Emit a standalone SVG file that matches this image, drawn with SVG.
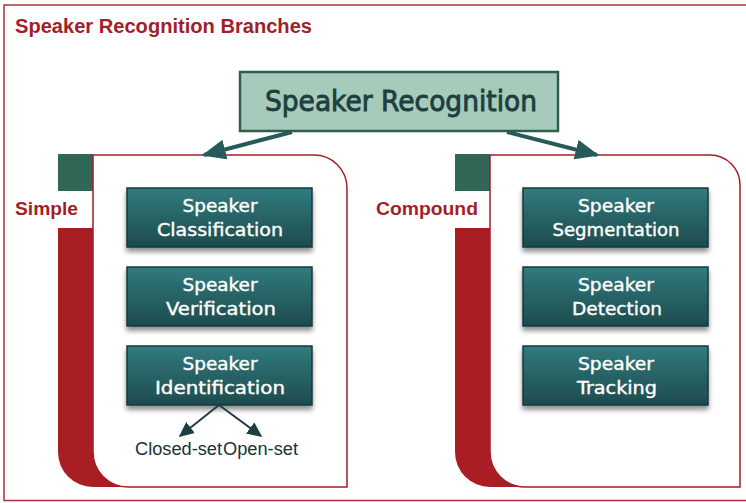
<svg xmlns="http://www.w3.org/2000/svg" width="746" height="503" viewBox="0 0 746 503">
  <defs>
    <linearGradient id="tealGrad" x1="0" y1="0" x2="0" y2="1">
      <stop offset="0" stop-color="#317b7e"/>
      <stop offset="1" stop-color="#1d4b4d"/>
    </linearGradient>
    <filter id="boxShadow" x="-10%" y="-10%" width="120%" height="140%">
      <feDropShadow dx="0" dy="4" stdDeviation="2.5" flood-color="#000" flood-opacity="0.45"/>
    </filter>
    <marker id="headBig" viewBox="0 0 10 10" refX="9" refY="5" markerWidth="6" markerHeight="5" orient="auto" markerUnits="strokeWidth" preserveAspectRatio="none">
      <path d="M0,0 L10,5 L0,10 Z" fill="#265b59"/>
    </marker>
    <marker id="headSmall" viewBox="0 0 10 10" refX="9" refY="5" markerWidth="7.5" markerHeight="7" orient="auto" markerUnits="strokeWidth" preserveAspectRatio="none">
      <path d="M0,0 L10,5 L0,10 Z" fill="#1d3f3f"/>
    </marker>
  </defs>
  <style>
    .frame { fill: none; stroke: #a8343c; stroke-width: 1.5; }
    .title { font-family: "Liberation Sans", Arial, sans-serif; font-weight: bold; font-size: 20px; fill: #a01f28; }
    .group-label { font-family: "Liberation Sans", Arial, sans-serif; font-weight: bold; font-size: 19px; fill: #a01f28; }
    .tab { fill: #2f6656; }
    .spine { fill: #a91e23; }
    .panel { fill: #ffffff; stroke: #a51e25; stroke-width: 1.5; }
    .root-box { fill: #a6cbbb; stroke: #2f5e4e; stroke-width: 2.5; }
    .root-text { font-family: "Comic Sans MS", "DejaVu Sans", sans-serif; font-size: 28px; fill: #1e3f3f; stroke: #1e3f3f; stroke-width: 0.9; text-anchor: middle; }
    .leaf-box { fill: url(#tealGrad); stroke: #17393a; stroke-width: 1.5; filter: url(#boxShadow); }
    .leaf-text { font-family: "Comic Sans MS", "DejaVu Sans", sans-serif; font-size: 18px; fill: #ffffff; stroke: #ffffff; stroke-width: 0.4; text-anchor: middle; }
    .sub-text { font-family: "Liberation Sans", Arial, sans-serif; font-size: 18px; fill: #173434; }
    .conn-big { fill: none; stroke: #265b59; stroke-width: 4; }
    .conn-small { fill: none; stroke: #1d3f3f; stroke-width: 2; }
  </style>

  <!-- outer frame and heading -->
  <rect class="frame" x="4" y="5" width="800" height="495.5"/>
  <text class="title" x="15" y="33" textLength="297" lengthAdjust="spacingAndGlyphs">Speaker Recognition Branches</text>

  <!-- root node -->
  <g id="root">
    <rect class="root-box" x="240" y="72" width="318" height="59"/>
    <text class="root-text" x="401" y="111" textLength="272" lengthAdjust="spacingAndGlyphs">Speaker Recognition</text>
  </g>

  <!-- Simple branch container -->
  <g id="simple">
    <path class="spine" d="M58,228 V452 A35,35 0 0 0 93,487 H200 V228 Z"/>
    <rect class="tab" x="58" y="154" width="35" height="37"/>
    <path class="panel" d="M93,155 H314 A33,33 0 0 1 347,188 V487 H128 A35,35 0 0 1 93,452 Z"/>
    <text class="group-label" x="15" y="215" textLength="63" lengthAdjust="spacingAndGlyphs">Simple</text>
  </g>

  <!-- Compound branch container -->
  <g id="compound">
    <path class="spine" d="M455,228 V452 A35,35 0 0 0 490,487 H600 V228 Z"/>
    <rect class="tab" x="455" y="154" width="35" height="37"/>
    <path class="panel" d="M490,155 H710 A30,30 0 0 1 740,185 V487 H525 A35,35 0 0 1 490,452 Z"/>
    <text class="group-label" x="376" y="215" textLength="102" lengthAdjust="spacingAndGlyphs">Compound</text>
  </g>

  <!-- leaf nodes, Simple branch -->
  <g id="classification">
    <rect class="leaf-box" x="127" y="188" width="185" height="59"/>
    <text class="leaf-text" x="220" y="212" textLength="75" lengthAdjust="spacingAndGlyphs">Speaker</text>
    <text class="leaf-text" x="220" y="236" textLength="126" lengthAdjust="spacingAndGlyphs">Classification</text>
  </g>
  <g id="verification">
    <rect class="leaf-box" x="127" y="267" width="185" height="59"/>
    <text class="leaf-text" x="220" y="291" textLength="75" lengthAdjust="spacingAndGlyphs">Speaker</text>
    <text class="leaf-text" x="221" y="315" textLength="110" lengthAdjust="spacingAndGlyphs">Verification</text>
  </g>
  <g id="identification">
    <rect class="leaf-box" x="127" y="346" width="185" height="59"/>
    <text class="leaf-text" x="220" y="370" textLength="75" lengthAdjust="spacingAndGlyphs">Speaker</text>
    <text class="leaf-text" x="220" y="394" textLength="130" lengthAdjust="spacingAndGlyphs">Identification</text>
  </g>
  <g id="closed-set">
    <text class="sub-text" x="135" y="455" textLength="87" lengthAdjust="spacingAndGlyphs">Closed-set</text>
  </g>
  <g id="open-set">
    <text class="sub-text" x="223" y="455" textLength="75" lengthAdjust="spacingAndGlyphs">Open-set</text>
  </g>

  <!-- leaf nodes, Compound branch -->
  <g id="segmentation">
    <rect class="leaf-box" x="523" y="188" width="185" height="59"/>
    <text class="leaf-text" x="616" y="212" textLength="76" lengthAdjust="spacingAndGlyphs">Speaker</text>
    <text class="leaf-text" x="616" y="236" textLength="127" lengthAdjust="spacingAndGlyphs">Segmentation</text>
  </g>
  <g id="detection">
    <rect class="leaf-box" x="523" y="267" width="185" height="59"/>
    <text class="leaf-text" x="616" y="291" textLength="76" lengthAdjust="spacingAndGlyphs">Speaker</text>
    <text class="leaf-text" x="617" y="315" textLength="90" lengthAdjust="spacingAndGlyphs">Detection</text>
  </g>
  <g id="tracking">
    <rect class="leaf-box" x="523" y="346" width="185" height="59"/>
    <text class="leaf-text" x="616" y="370" textLength="76" lengthAdjust="spacingAndGlyphs">Speaker</text>
    <text class="leaf-text" x="617" y="394" textLength="80" lengthAdjust="spacingAndGlyphs">Tracking</text>
  </g>

  <!-- connectors -->
  <g id="connectors">
    <line class="conn-big" x1="292" y1="132" x2="204" y2="155" marker-end="url(#headBig)"/>
    <line class="conn-big" x1="507" y1="132" x2="597" y2="155" marker-end="url(#headBig)"/>
    <line class="conn-small" x1="219" y1="405" x2="180" y2="436" marker-end="url(#headSmall)"/>
    <line class="conn-small" x1="219" y1="405" x2="261" y2="436" marker-end="url(#headSmall)"/>
  </g>
</svg>
